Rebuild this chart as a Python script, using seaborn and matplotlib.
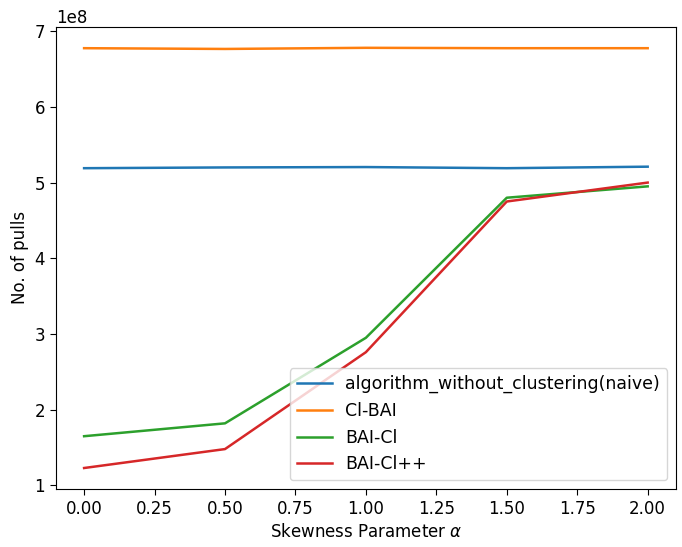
import matplotlib
matplotlib.use("Agg")
import matplotlib.pyplot as plt
import seaborn as sns
import pandas as pd

alpha = [0.0, 0.5, 1.0, 1.5, 2.0]
naive = [5.19e8, 5.20e8, 5.205e8, 5.19e8, 5.21e8]
cl_bai = [6.775e8, 6.765e8, 6.78e8, 6.775e8, 6.775e8]
bai_cl = [1.65e8, 1.82e8, 2.95e8, 4.80e8, 4.95e8]
bai_clpp = [1.23e8, 1.48e8, 2.76e8, 4.75e8, 5.00e8]
names = ["algorithm_without_clustering(naive)", "Cl-BAI", "BAI-Cl", "BAI-Cl++"]

rows = []
for name, vals in zip(names, [naive, cl_bai, bai_cl, bai_clpp]):
    for a, v in zip(alpha, vals):
        rows.append({"alpha": a, "pulls": v, "algo": name})
df = pd.DataFrame(rows)

plt.rcParams.update({
    "font.size": 12,
    "xtick.major.size": 4.2,
    "ytick.major.size": 4.2,
})

fig = plt.figure(figsize=(6.82, 5.47), dpi=100)
ax = fig.add_axes([0.082, 0.106, 0.909, 0.845])
sns.lineplot(data=df, x="alpha", y="pulls", hue="algo", hue_order=names,
             palette=["#1f77b4", "#ff7f0e", "#2ca02c", "#d62728"],
             linewidth=1.8, ax=ax)
ax.set_xlabel(r"Skewness Parameter $\alpha$")
ax.set_ylabel("No. of pulls")
ax.set_xticks([0, 0.25, 0.5, 0.75, 1.0, 1.25, 1.5, 1.75, 2.0])
ax.legend(loc="lower right", title=None, fontsize=12.5)
fig.savefig("out.png", dpi=100)
